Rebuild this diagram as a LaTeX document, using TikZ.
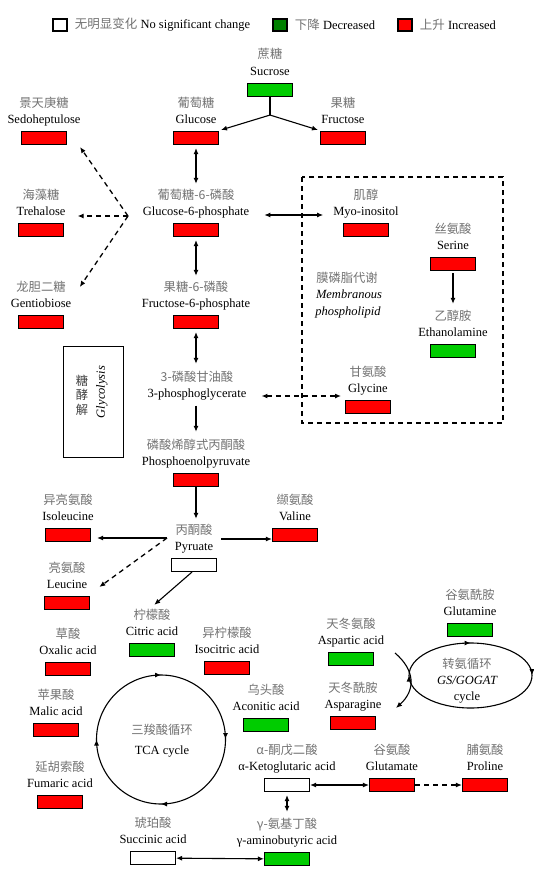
\documentclass[tikz,border=0pt]{standalone}
\usepackage{fontspec}
\setmainfont{Liberation Serif}
\newfontfamily\cjk{Noto Sans CJK SC}
\usetikzlibrary{arrows.meta,positioning,decorations.markings}
\definecolor{upred}{RGB}{255,0,0}
\definecolor{downgreen}{RGB}{0,204,0}
\definecolor{leggreen}{RGB}{0,128,0}
\definecolor{cngray}{gray}{0.45}
\tikzset{
	cntext/.style={font=\cjk\fontsize{12.3}{14}\selectfont, text=cngray, text height=10pt, text depth=2pt, inner sep=2pt},
	entext/.style={font=\fontsize{12.5}{14}\selectfont, text height=8.5pt, text depth=2.5pt, inner sep=2pt},
	metbox/.style={draw, line width=1.1pt, minimum width=45pt, minimum height=13pt, inner sep=0pt},
	legbox/.style={draw, line width=1.4pt, minimum width=14pt, minimum height=12pt, inner sep=0pt},
	legtext/.style={font=\fontsize{12.5}{14}\selectfont, inner sep=2pt},
	arr/.style={-{Latex[length=6pt,width=5pt]}, line width=1.1pt},
	dbl/.style={{Latex[length=6pt,width=5pt]}-{Latex[length=6pt,width=5pt]}, line width=1.1pt},
	dasharr/.style={arr, dash pattern=on 5pt off 4pt, line width=1.3pt},
	dashdbl/.style={dbl, dash pattern=on 5pt off 4pt, line width=1.3pt},
	cyc/.style={line width=1.1pt, postaction={decorate}, decoration={markings,
		mark=at position 0.25 with {\arrow{Latex[length=6pt,width=5pt]}},
		mark=at position 0.5 with {\arrow{Latex[length=6pt,width=5pt]}},
		mark=at position 0.75 with {\arrow{Latex[length=6pt,width=5pt]}},
		mark=at position 0.999 with {\arrow{Latex[length=6pt,width=5pt]}}}},
	gscyc/.style={line width=1.1pt, postaction={decorate}, decoration={markings,
		mark=at position 0.5 with {\arrow{Latex[length=6pt,width=5pt]}},
		mark=at position 0.75 with {\arrow{Latex[length=6pt,width=5pt]}},
		mark=at position 0.999 with {\arrow{Latex[length=6pt,width=5pt]}}}},
}
\def\metab(#1)(#2,#3)#4#5#6{%
	\node[cntext] (#1-cn) at (#2,#3) {#4};
	\node[entext] (#1-en) at (#2,#3+17) {#5};
	\node[metbox, fill=#6] (#1) at (#2,#3+35) {};
}

\begin{document}
\begin{tikzpicture}[x=1pt, y=-1pt]
			%%%%% START %%%%%
			\fill[white] (0,0) rectangle (534,875);
			\useasboundingbox (0,0) rectangle (534,875);
			
			% legend
			\node[legbox, fill=white] (leg-none) at (60,25) {};
			\node[legtext, right=5pt of leg-none] (leg-none-t) {{\cjk\color{cngray}无明显变化} No significant change};
			\node[legbox, fill=leggreen] (leg-down) at (280,25) {};
			\node[legtext, right=5pt of leg-down] (leg-down-t) {{\cjk\color{cngray}下降} Decreased};
			\node[legbox, fill=upred] (leg-up) at (405,25) {};
			\node[legtext, right=5pt of leg-up] (leg-up-t) {{\cjk\color{cngray}上升} Increased};
			
			% sugars
			\metab(sucrose)(270,55){蔗糖}{Sucrose}{downgreen}
			\metab(glucose)(196,103){葡萄糖}{Glucose}{upred}
			\metab(fructose)(343,103){果糖}{Fructose}{upred}
			\metab(sedo)(44,103){景天庚糖}{Sedoheptulose}{upred}
			\metab(treh)(41,195){海藻糖}{Trehalose}{upred}
			\metab(gent)(41,287){龙胆二糖}{Gentiobiose}{upred}
			
			% glycolysis
			\metab(g6p)(196,195){葡萄糖-6-磷酸}{Glucose-6-phosphate}{upred}
			\metab(f6p)(196,287){果糖-6-磷酸}{Fructose-6-phosphate}{upred}
			\node[cntext] (pga-cn) at (197,377) {3-磷酸甘油酸};
			\node[entext] (pga-en) at (197,394) {3-phosphoglycerate};
			\metab(pep)(196,445){磷酸烯醇式丙酮酸}{Phosphoenolpyruvate}{upred}
			\metab(pyr)(194,530){丙酮酸}{Pyruate}{white}
			
			\node[draw, line width=0.8pt, minimum width=60pt, minimum height=111pt] (glyc) at (93,401.5) {};
			\node[font=\cjk\fontsize{12.3}{14.5}\selectfont, text=black!75, align=center] (glyc-cn) at (82,395) {糖\\酵\\解};
			\node[font=\fontsize{12.5}{14}\selectfont\itshape, rotate=90] (glyc-en) at (102,392) {Glycolysis};
			
			% membranous phospholipid
			\draw[line width=1.3pt, dash pattern=on 5pt off 4pt] (302,177) rectangle (503,423);
			\metab(myo)(366,195){肌醇}{Myo-inositol}{upred}
			\metab(ser)(453,229){丝氨酸}{Serine}{upred}
			\metab(eth)(453,316){乙醇胺}{Ethanolamine}{downgreen}
			\metab(gly)(368,372){甘氨酸}{Glycine}{upred}
			\node[cntext] (mem-cn) at (347,278) {膜磷脂代谢};
			\node[entext, font=\fontsize{12.5}{14}\selectfont\itshape] (mem-en1) at (349,295) {Membranous};
			\node[entext, font=\fontsize{12.5}{14}\selectfont\itshape] (mem-en2) at (348,312) {phospholipid};
			
			% amino acids
			\metab(ile)(68,500){异亮氨酸}{Isoleucine}{upred}
			\metab(val)(295,500){缬氨酸}{Valine}{upred}
			\metab(leu)(67,568){亮氨酸}{Leucine}{upred}
			
			% TCA cycle
			\metab(cit)(152,615){柠檬酸}{Citric acid}{downgreen}
			\metab(oxa)(68,634){草酸}{Oxalic acid}{upred}
			\metab(icit)(227,633){异柠檬酸}{Isocitric acid}{upred}
			\metab(mal)(56,695){苹果酸}{Malic acid}{upred}
			\metab(fum)(60,767){延胡索酸}{Fumaric acid}{upred}
			\metab(aco)(266,690){乌头酸}{Aconitic acid}{downgreen}
			\metab(akg)(287,750){α-酮戊二酸}{α-Ketoglutaric acid}{white}
			\metab(gaba)(287,824){γ-氨基丁酸}{γ-aminobutyric acid}{downgreen}
			\metab(succ)(153,823){琥珀酸}{Succinic acid}{white}
			\coordinate (tca) at (161,739.5);
			\draw[cyc] (tca) circle[radius=64.5];
			\node[cntext] (tca-cn) at (162,730) {三羧酸循环};
			\node[entext] (tca-en) at (162,751) {TCA cycle};
			
			% GS/GOGAT
			\metab(asp)(351,624){天冬氨酸}{Aspartic acid}{downgreen}
			\metab(asn)(353,688){天冬酰胺}{Asparagine}{upred}
			\metab(gln)(470,595){谷氨酰胺}{Glutamine}{downgreen}
			\metab(glu)(392,750){谷氨酸}{Glutamate}{upred}
			\metab(pro)(485,750){脯氨酸}{Proline}{upred}
			\coordinate (gs) at (470.5,675.5);
			\draw[gscyc] (gs) ellipse[x radius=61.5, y radius=32.5];
			\node[cntext] (gs-cn) at (467,664) {转氨循环};
			\node[entext, font=\fontsize{12.5}{14}\selectfont\itshape] (gs-en1) at (467,681) {GS/GOGAT};
			\node[entext] (gs-en2) at (467,697) {cycle};
			
			% connectors
			\coordinate[below=18pt of sucrose.south] (sucfork);
			\draw[line width=1.1pt] (sucrose.south) -- (sucfork);
			\draw[arr] (sucfork) -- ([shift={(2,-1)}]glucose.north east);
			\draw[arr] (sucfork) -- ([shift={(-2,-1)}]fructose.north west);
			
			\coordinate (hub) at (128,216);
			\draw[dasharr] (hub) -- ([shift={(13,2)}]sedo.south east);
			\draw[dasharr] (hub) -- ([shift={(10,4)}]treh-en.east);
			\draw[dasharr] (hub) -- ([xshift=12pt]gent-cn.east);
			
			\draw[dbl, shorten <=3pt, shorten >=3pt] (glucose.south) -- (g6p-cn.north);
			\draw[dbl, shorten <=3pt, shorten >=3pt] (g6p.south) -- (f6p-cn.north);
			\draw[dbl, shorten <=3pt, shorten >=5pt] (f6p.south) -- (f6p.south |- pga-cn.north);
			\draw[arr, shorten <=4pt, shorten >=5pt] (pep.north |- pga-en.south) -- (pep-cn.north);
			\draw[arr, shorten >=3pt] (pep.south) -- (pep.south |- pyr-cn.north);
			
			\draw[dbl] ([shift={(13,3)}]g6p-en.east) -- ([shift={(-8,3)}]myo-en.west);
			\draw[arr, shorten <=2pt, shorten >=4pt] (ser.south) -- (eth-cn.north);
			\draw[dashdbl] ([shift={(13,2)}]pga-en.east) -- ([shift={(-5,2)}]pga-en.east -| gly-en.west);
			
			\coordinate (pyrL) at (167,538);
			\coordinate (pyrR) at (221,539);
			\draw[arr, shorten >=6pt] (pyrL) -- (pyrL -| ile.east);
			\draw[arr] (pyrR) -- (pyrR -| val.west);
			\draw[dasharr] (pyrL) -- ([shift={(10,2)}]leu-en.east);
			\draw[arr, shorten >=3pt] ([xshift=-2pt]pyr.south) -- (cit-cn.north);
			
			\coordinate (gsin) at (395,653);
			\coordinate (gsout) at (396,708);
			\draw[arr] (gsin) .. controls +(20,17) and +(20,-18) .. (gsout);
			
			\draw[dbl] (akg) -- (glu);
			\draw[dasharr] (glu) -- (pro);
			\draw[dbl, shorten <=3pt, shorten >=4pt] (akg.south) -- (gaba-cn.north);
			\draw[dbl] (succ) -- (gaba);
			%%%%% END %%%%%
\end{tikzpicture}
\end{document}
